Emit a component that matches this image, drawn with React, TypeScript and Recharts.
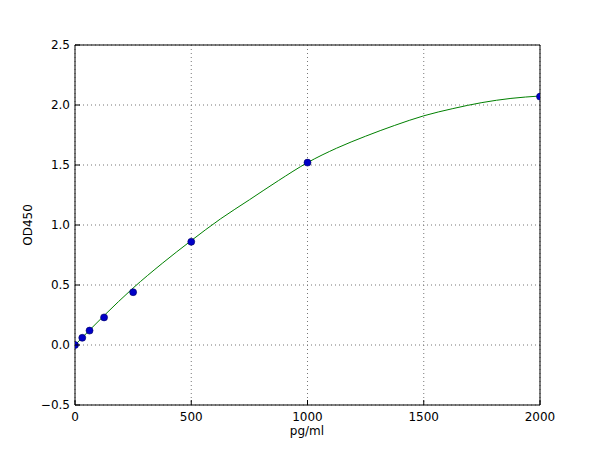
import React from "react";
import {
  ComposedChart,
  Line,
  Scatter,
  XAxis,
  YAxis,
  CartesianGrid,
} from "recharts";

// standards (measured)
const standardConc = [0, 31.25, 62.5, 125, 250, 500, 1000, 2000];
const standardOD = [0.0, 0.06, 0.12, 0.23, 0.44, 0.86, 1.52, 2.07];

// fitted curve
const curveConc = [0, 125, 250, 375, 500, 625, 750, 875, 1000, 1125, 1250, 1375, 1500, 1625, 1750, 1875, 2000];
const curveOD = [0.0, 0.245, 0.475, 0.68, 0.87, 1.05, 1.21, 1.37, 1.52, 1.64, 1.74, 1.83, 1.91, 1.97, 2.02, 2.055, 2.075];

const xTicks = [0, 500, 1000, 1500, 2000];
const yTicks = [-0.5, 0, 0.5, 1.0, 1.5, 2.0, 2.5];

const points = standardConc.map((x, i) => ({ x, y: standardOD[i] }));
const curve = curveConc.map((x, i) => ({ x, y: curveOD[i] }));

const font = "'DejaVu Sans', sans-serif";

const fmtY = (v: number) => (v < 0 ? "\u2212" + Math.abs(v).toFixed(1) : v.toFixed(1));

function BottomTick({ x, y, payload }: any) {
  return (
    <g>
      <line x1={x} y1={y} x2={x} y2={y - 5} stroke="#000" />
      <text x={x} y={y + 16} textAnchor="middle" fontSize={12} fontFamily={font} fill="#000">
        {payload.value}
      </text>
    </g>
  );
}

function TopTick({ x, y }: any) {
  return <line x1={x} y1={y} x2={x} y2={y + 5} stroke="#000" />;
}

function LeftTick({ x, y, payload }: any) {
  return (
    <g>
      <line x1={x} y1={y} x2={x + 5} y2={y} stroke="#000" />
      <text x={x - 5} y={y + 4} textAnchor="end" fontSize={12} fontFamily={font} fill="#000">
        {fmtY(payload.value)}
      </text>
    </g>
  );
}

function RightTick({ x, y }: any) {
  return <line x1={x} y1={y} x2={x - 5} y2={y} stroke="#000" />;
}

export default function App() {
  return (
    <div style={{ position: "absolute", left: 0, top: 0, width: 600, height: 450, background: "#fff" }}>
      <ComposedChart
        width={600}
        height={450}
        margin={{ top: 44, right: 59, bottom: 44, left: 74 }}
      >
        <CartesianGrid stroke="#777" strokeDasharray="1 3" xAxisId="b" yAxisId="l" />
        <XAxis
          xAxisId="b"
          type="number"
          dataKey="x"
          domain={[0, 2000]}
          ticks={xTicks}
          height={1}
          tickSize={0}
          tickMargin={0}
          tickLine={false}
          tick={<BottomTick />}
          axisLine={{ stroke: "#000" }}
          allowDataOverflow
        />
        <XAxis
          xAxisId="t"
          orientation="top"
          type="number"
          dataKey="x"
          domain={[0, 2000]}
          ticks={xTicks}
          height={1}
          tickSize={0}
          tickMargin={0}
          tickLine={false}
          tick={<TopTick />}
          axisLine={{ stroke: "#000" }}
        />
        <YAxis
          yAxisId="l"
          type="number"
          dataKey="y"
          domain={[-0.5, 2.5]}
          ticks={yTicks}
          width={1}
          tickSize={0}
          tickMargin={0}
          tickLine={false}
          tick={<LeftTick />}
          axisLine={{ stroke: "#000" }}
          allowDataOverflow
        />
        <YAxis
          yAxisId="r"
          orientation="right"
          type="number"
          dataKey="y"
          domain={[-0.5, 2.5]}
          ticks={yTicks}
          width={1}
          tickSize={0}
          tickMargin={0}
          tickLine={false}
          tick={<RightTick />}
          axisLine={{ stroke: "#000" }}
        />
        <Line
          xAxisId="b"
          yAxisId="l"
          data={curve}
          dataKey="y"
          type="monotone"
          stroke="#008000"
          strokeWidth={1}
          dot={false}
          isAnimationActive={false}
        />
        <Scatter
          xAxisId="b"
          yAxisId="l"
          data={points}
          dataKey="y"
          fill="#0000c8"
          stroke="#00007a"
          shape={(p: any) => <circle cx={p.cx} cy={p.cy} r={3.5} fill="#0000c8" stroke="#000060" strokeWidth={0.6} />}
          isAnimationActive={false}
        />
      </ComposedChart>
      <div
        style={{
          position: "absolute",
          left: 0,
          width: 600,
          top: 424,
          textAlign: "center",
          paddingLeft: 14,
          boxSizing: "border-box",
          fontFamily: font,
          fontSize: 12,
        }}
      >
        pg/ml
      </div>
      <div
        style={{
          position: "absolute",
          left: 28,
          top: 225,
          transform: "translate(-50%, -50%) rotate(-90deg)",
          fontFamily: font,
          fontSize: 12,
          whiteSpace: "nowrap",
        }}
      >
        OD450
      </div>
    </div>
  );
}
